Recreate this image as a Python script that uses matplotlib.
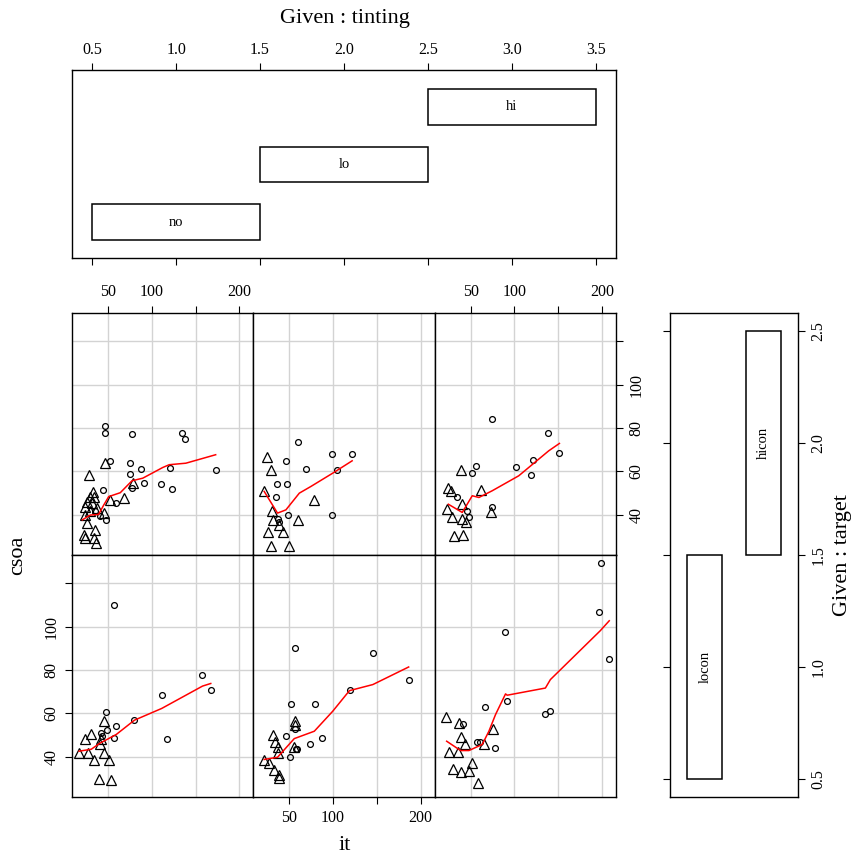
import matplotlib
matplotlib.use("Agg")
import matplotlib.pyplot as plt

plt.rcParams['font.family'] = ['Liberation Serif', 'DejaVu Serif']

tint_levels = ["no", "lo", "hi"]
target_levels = ["locon", "hicon"]

# target = hicon, tint = no
it_hicon_no_older = [47, 47, 78, 134.5, 138, 52, 75.6, 88.1, 120.5, 173, 75.6, 90.8, 111, 122.7, 77.5, 44.4, 59.6, 47.8, 35, 41]
csoa_hicon_no_older = [81.1, 77.8, 77.1, 77.8, 74.8, 64.8, 64, 61, 61.4, 60.6, 58.7, 54.5, 54.3, 52, 52.5, 51.5, 45.3, 37.6, 42, 39.5]
it_hicon_no_young = [47, 28, 32.6, 29.9, 33.8, 26.1, 31.8, 24.2, 37.5, 29.9, 24.2, 45.2, 52.7, 68, 79, 26.1, 35.6, 22.3, 24.2, 33.8, 36.4]
csoa_hicon_no_young = [64, 58.4, 50.7, 48.4, 48.4, 46.1, 45.3, 43.5, 43, 41.9, 39.9, 40.7, 46.8, 47.6, 54.5, 36.1, 33, 30.7, 29.2, 29.2, 26.9]
smooth_it_hicon_no = [20.8, 29.9, 39.4, 45.2, 50.9, 64.1, 77.5, 89.8, 112.5, 120, 139, 173]
smooth_csoa_hicon_no = [37.7, 39.9, 40.2, 44.5, 48.4, 50.2, 55.7, 56.9, 61.8, 63.1, 63.8, 67.7]

# target = hicon, tint = lo
it_hicon_lo_older = [59.5, 46.2, 98.5, 121.8, 69, 104.2, 35.9, 47.7, 34.7, 48.1, 98.5, 36.6, 37.8]
csoa_hicon_lo_older = [73.5, 64.9, 68.2, 68.2, 61.2, 60.5, 54, 54, 48, 40, 40, 38.2, 36.6]
it_hicon_lo_young = [24.4, 29, 21.4, 78.6, 29.8, 32, 38.5, 59.5, 25.2, 42.4, 29, 50]
csoa_hicon_lo_young = [66.6, 60.5, 50.8, 46.9, 41.8, 37.4, 35.4, 37.4, 32.3, 32, 25.7, 25.7]
smooth_it_hicon_lo = [21.4, 36.6, 46.2, 61.5, 74.8, 99.6, 121.8]
smooth_csoa_hicon_lo = [50.8, 40.8, 42.3, 50, 53.1, 59.2, 64.9]

# target = hicon, tint = hi
it_hicon_hi_older = [75, 138.5, 150.6, 121.4, 101.6, 55.7, 51.5, 119.5, 34.4, 75, 45.4, 48]
csoa_hicon_hi_older = [84.2, 77.8, 68.5, 65.4, 62.2, 62.3, 59.1, 58.5, 48.3, 43.4, 41.8, 38.8]
it_hicon_hi_young = [38.6, 24.6, 27.2, 61.8, 39.7, 23.4, 73.5, 28.4, 40.5, 44.3, 31, 41.3]
csoa_hicon_hi_young = [60.6, 52.2, 51.1, 51.4, 44.9, 42.6, 41.5, 38.8, 38, 36.5, 30.3, 30.8]
smooth_it_hicon_hi = [24.6, 40.5, 51.9, 59.5, 74.7, 105, 139.2, 151.4]
smooth_csoa_hicon_hi = [44.9, 41.1, 48.8, 48, 51.1, 58, 69.5, 72.9]

# target = locon, tint = no
it_locon_no_older = [56.8, 157.6, 167.4, 111.4, 47.3, 59.5, 80.3, 49.2, 41.7, 43.2, 56.8, 117]
csoa_locon_no_older = [110, 77.7, 70.8, 68.3, 60.6, 54.2, 57.2, 52.6, 51.1, 49.5, 48.8, 48]
it_locon_no_young = [45.5, 30.3, 24.2, 41.7, 40.5, 17.4, 27.7, 46, 34, 51, 40, 53]
csoa_locon_no_young = [56.6, 50.3, 48, 48, 45.7, 41.8, 41.8, 41.8, 38.5, 38.5, 30, 29.2]
smooth_it_locon_no = [17, 31, 40.5, 59.5, 80.3, 111.4, 158, 167.4]
smooth_csoa_locon_no = [42.6, 43.5, 46.2, 50.3, 56.9, 62.3, 72.6, 73.8]

# target = locon, tint = lo
it_locon_lo_older = [56.3, 145.3, 186.4, 119.7, 52.4, 79.4, 56.6, 46.7, 87.8, 73.7, 57.4, 58.5, 50.9]
csoa_locon_lo_older = [90.3, 87.9, 75.4, 70.7, 64.4, 64.4, 52.8, 49.6, 48.8, 45.8, 43.5, 43.5, 40.1]
it_locon_lo_young = [56.3, 56.3, 31.5, 33.4, 37.2, 37.2, 55.5, 21.2, 26.9, 32.6, 38.3, 38.3]
csoa_locon_lo_young = [56.7, 54.7, 50.1, 47, 44.4, 41.9, 44.7, 38.5, 37.3, 33.9, 31.6, 30.1]
smooth_it_locon_lo = [21.4, 36.6, 55.7, 78.6, 99.6, 118.7, 145.4, 186.3]
smooth_csoa_locon_lo = [38.8, 39.8, 48.4, 51.8, 61, 70.5, 73.3, 81.4]

# target = locon, tint = hi
it_locon_hi_older = [198.5, 196.6, 89.6, 208, 91.5, 66.8, 140.3, 134.6, 41.6, 56.9, 60.7, 78.2]
csoa_locon_hi_older = [129.5, 106.8, 97.4, 85, 65.9, 62.8, 61.3, 59.7, 55, 47, 47, 43.9]
it_locon_hi_young = [21.9, 36.4, 39, 44, 75.2, 65.6, 25.7, 35.3, 51.6, 29.5, 39, 48.5, 58.1]
csoa_locon_hi_young = [58.2, 55.7, 49, 45.9, 52.7, 45.9, 42.1, 42.4, 37.3, 34.3, 33.2, 33.6, 27.8]
smooth_it_locon_hi = [22.7, 38.6, 48.1, 63.3, 70.9, 78.5, 89.9, 91.8, 135.4, 141.1, 198, 208.3]
smooth_csoa_locon_hi = [47.2, 42.9, 42.9, 45.7, 51.8, 59.5, 69, 68.4, 71.7, 75.6, 98.1, 102.7]

x_ticks = [50, 100, 150, 200]
x_ticklabels = ["50", "100", "", "200"]
y_ticks = [40, 60, 80, 100, 120]
y_ticklabels = ["40", "60", "80", "100", ""]
given_ticks_tint = [0.5, 1.0, 1.5, 2.0, 2.5, 3.0, 3.5]
given_ticks_target = [0.5, 1.0, 1.5, 2.0, 2.5]

panels = {
    ("hicon", "no"): (it_hicon_no_older, csoa_hicon_no_older, it_hicon_no_young, csoa_hicon_no_young,
                      smooth_it_hicon_no, smooth_csoa_hicon_no),
    ("hicon", "lo"): (it_hicon_lo_older, csoa_hicon_lo_older, it_hicon_lo_young, csoa_hicon_lo_young,
                      smooth_it_hicon_lo, smooth_csoa_hicon_lo),
    ("hicon", "hi"): (it_hicon_hi_older, csoa_hicon_hi_older, it_hicon_hi_young, csoa_hicon_hi_young,
                      smooth_it_hicon_hi, smooth_csoa_hicon_hi),
    ("locon", "no"): (it_locon_no_older, csoa_locon_no_older, it_locon_no_young, csoa_locon_no_young,
                      smooth_it_locon_no, smooth_csoa_locon_no),
    ("locon", "lo"): (it_locon_lo_older, csoa_locon_lo_older, it_locon_lo_young, csoa_locon_lo_young,
                      smooth_it_locon_lo, smooth_csoa_locon_lo),
    ("locon", "hi"): (it_locon_hi_older, csoa_locon_hi_older, it_locon_hi_young, csoa_locon_hi_young,
                      smooth_it_locon_hi, smooth_csoa_locon_hi),
}

W, H = 851, 856
TICK_SIZE = 11.5
LAB_SIZE = 16


def px_box(left, top, right, bottom):
    """pixel box -> figure fraction rectangle"""
    return [left / W, 1 - bottom / H, (right - left) / W, (bottom - top) / H]


def no_ticks(ax):
    ax.tick_params(which='both', left=False, right=False, top=False, bottom=False,
                   labelleft=False, labelright=False, labeltop=False, labelbottom=False)


fig = plt.figure(figsize=(W / 100, H / 100), dpi=100)

col_edges = [72, 72 + 544 / 3, 72 + 2 * 544 / 3, 616]
row_edges = {"hicon": (313, 555), "locon": (555, 797)}

for (target, tint), (xo, yo, xy, yy, xs, ys) in panels.items():
    c = tint_levels.index(tint)
    top, bottom = row_edges[target]
    ax = fig.add_axes(px_box(col_edges[c], top, col_edges[c + 1], bottom))
    ax.set_xlim(9, 216)
    ax.set_ylim(21.5, 133)
    ax.set_xticks(x_ticks)
    ax.set_xticklabels(x_ticklabels)
    ax.set_yticks(y_ticks)
    ax.set_yticklabels(y_ticklabels)
    ax.grid(True, color="#d3d3d3", lw=1.0)
    ax.set_axisbelow(True)
    for sp in ax.spines.values():
        sp.set_linewidth(1.0)
    no_ticks(ax)
    ax.tick_params(length=5, width=0.8, pad=4, labelsize=TICK_SIZE)

    if target == "hicon" and tint in ("no", "hi"):
        ax.tick_params(axis='x', top=True, labeltop=True)
    if target == "locon" and tint == "lo":
        ax.tick_params(axis='x', bottom=True, labelbottom=True)
    if target == "locon" and tint == "no":
        ax.tick_params(axis='y', left=True, labelleft=True, labelrotation=90)
        for lab in ax.get_yticklabels():
            lab.set_va('center')
    if target == "hicon" and tint == "hi":
        ax.tick_params(axis='y', right=True, labelright=True, labelrotation=90)
        for lab in ax.get_yticklabels(which='both'):
            lab.set_va('center')

    ax.plot(xo, yo, 'o', mfc='none', mec='black', ms=4.2, mew=0.9)
    ax.plot(xy, yy, '^', mfc='none', mec='black', ms=7, mew=0.9)
    ax.plot(xs, ys, color='red', lw=1.1)

# given panel for tinting (top)
ax_t = fig.add_axes(px_box(72, 70, 616, 258))
pos_t = [i + 1 for i in range(len(tint_levels))]
ax_t.barh(pos_t, width=1, left=[p - 0.5 for p in pos_t], height=0.62,
          fill=False, edgecolor='black', lw=1.1)
for p, name in zip(pos_t, tint_levels):
    ax_t.text(p, p, name, ha='center', va='center', fontsize=10.5)
ax_t.set_xlim(0.38, 3.62)
ax_t.set_ylim(0.38, 3.64)
ax_t.set_xticks(given_ticks_tint)
ax_t.set_xticklabels(["%.1f" % v for v in given_ticks_tint])
no_ticks(ax_t)
ax_t.tick_params(axis='x', top=True, bottom=True, labeltop=True, length=5, width=0.8,
                 pad=4, labelsize=TICK_SIZE)
for sp in ax_t.spines.values():
    sp.set_linewidth(1.0)

# given panel for target (right)
ax_r = fig.add_axes(px_box(670, 313, 798, 797))
pos_r = [i + 1 for i in range(len(target_levels))]
ax_r.bar(pos_r, height=1, bottom=[p - 0.5 for p in pos_r], width=0.6,
         fill=False, edgecolor='black', lw=1.1)
for p, name in zip(pos_r, target_levels):
    ax_r.text(p, p, name, ha='center', va='center', rotation=90, fontsize=10.5)
ax_r.set_xlim(0.4, 2.6)
ax_r.set_ylim(0.42, 2.58)
ax_r.set_yticks(given_ticks_target)
ax_r.set_yticklabels(["%.1f" % v for v in given_ticks_target])
no_ticks(ax_r)
ax_r.tick_params(axis='y', left=True, right=True, labelright=True, labelrotation=90,
                 length=5, width=0.8, pad=4, labelsize=TICK_SIZE)
for lab in ax_r.get_yticklabels():
    lab.set_va('center')
for sp in ax_r.spines.values():
    sp.set_linewidth(1.0)

fig.text(345 / W, 1 - 18 / H, "Given : tinting", ha='center', va='center', fontsize=LAB_SIZE)
fig.text(843 / W, 1 - 555 / H, "Given : target", ha='center', va='center', rotation=90, fontsize=LAB_SIZE)
fig.text(18 / W, 1 - 555 / H, "csoa", ha='center', va='center', rotation=90, fontsize=LAB_SIZE)
fig.text(345 / W, 1 - 845 / H, "it", ha='center', va='center', fontsize=LAB_SIZE)

fig.savefig("out.png", dpi=100)
